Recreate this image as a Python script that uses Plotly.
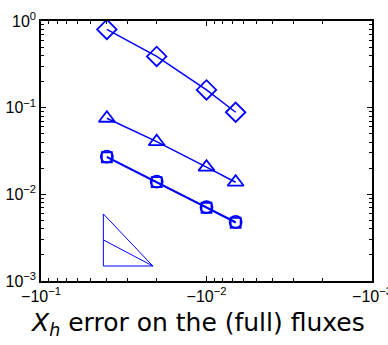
import plotly.graph_objects as go

h = [0.04, 0.02, 0.01, 1/150]
err_diamond = [0.80, 0.39, 0.16, 0.0885]
err_triangle = [0.0755, 0.0405, 0.0206, 0.0138]
err_circle = [0.0272, 0.0140, 0.0071, 0.0048]
err_square = [0.0268, 0.0138, 0.0070, 0.0047]

# slope triangle
tri_x = [0.042, 0.042, 0.0211, 0.042]
tri_y = [0.00594, 0.00149, 0.00149, 0.00594]
mid_x = [0.042, 0.0211]
mid_y = [0.00298, 0.00149]

xtick_vals = [0.1, 0.01, 0.001]
xtick_text = ["\u221210<sup>\u22121</sup>", "\u221210<sup>\u22122</sup>", "\u221210<sup>\u22123</sup>"]
ytick_vals = [0.001, 0.01, 0.1, 1]
ytick_text = ["10<sup>\u22123</sup>", "10<sup>\u22122</sup>", "10<sup>\u22121</sup>", "10<sup>0</sup>"]
x_minor = [m * 10.0**e for e in (-3, -2) for m in range(2, 10)]
y_minor = [m * 10.0**e for e in (-3, -2, -1) for m in range(2, 10)]

blue = "#0000FF"
fig = go.Figure()

def series(y, sym, size):
    fig.add_trace(go.Scatter(x=h, y=y, mode="lines+markers",
                             line=dict(color=blue, width=1.5),
                             marker=dict(symbol=sym, size=size, color=blue,
                                         line=dict(color=blue, width=1.8)),
                             showlegend=False))

series(err_diamond, "diamond-open", 15)
series(err_triangle, "triangle-up-open", 14)
series(err_circle, "circle-open", 12)
series(err_square, "square-open", 10)

fig.add_trace(go.Scatter(x=tri_x, y=tri_y, mode="lines",
                         line=dict(color=blue, width=1), showlegend=False))
fig.add_trace(go.Scatter(x=mid_x, y=mid_y, mode="lines",
                         line=dict(color=blue, width=1), showlegend=False))

def axis_common(minor_vals):
    return dict(showline=True, linecolor="black", linewidth=1.5, mirror="allticks",
                ticks="inside", ticklen=5, tickcolor="black", showgrid=False, zeroline=False,
                ticklabeloverflow="allow", automargin=False,
                tickfont=dict(family="Liberation Sans, Arial", size=16, color="black"),
                minor=dict(ticks="inside", ticklen=3, tickcolor="black", showgrid=False,
                           tickmode="array", tickvals=minor_vals))

fig.update_xaxes(type="log", range=[-1, -3], tickvals=xtick_vals, ticktext=xtick_text,
                 **axis_common(x_minor))
fig.update_yaxes(type="log", range=[-3, 0], tickvals=ytick_vals, ticktext=ytick_text,
                 **axis_common(y_minor))

fig.add_annotation(text="<i>X<sub>h</sub></i> error on the (full) fluxes",
                   xref="paper", yref="paper", x=0.474, y=-0.165, yanchor="middle",
                   showarrow=False, font=dict(family="DejaVu Sans", size=25, color="black"))

fig.update_layout(width=388, height=345, margin=dict(l=41, r=16, t=21, b=64),
                  plot_bgcolor="white", paper_bgcolor="white")
fig.write_html("out.html")
